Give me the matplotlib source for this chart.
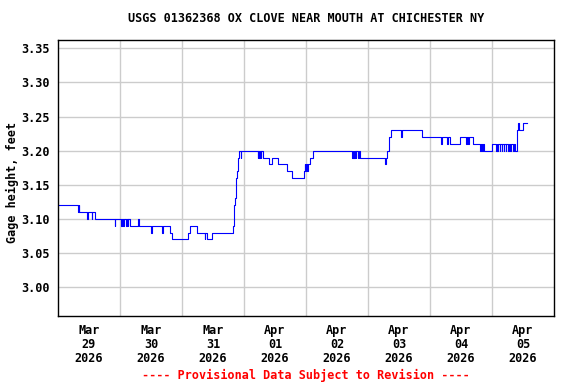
import pandas as pd
import matplotlib
matplotlib.use("Agg")
import matplotlib.pyplot as plt
import matplotlib.dates as mdates

# Gage height readings (step changes)
times = [
    "03-29 00:00", "03-29 07:45", "03-29 08:00", "03-29 08:15", "03-29 11:15",
    "03-29 11:30", "03-29 13:00", "03-29 13:15", "03-29 14:15", "03-29 22:00",
    "03-29 22:15", "03-30 00:30", "03-30 00:45", "03-30 01:15", "03-30 01:30",
    "03-30 02:30", "03-30 02:45", "03-30 03:00", "03-30 03:15", "03-30 03:45",
    "03-30 07:00", "03-30 07:30", "03-30 12:00", "03-30 12:30", "03-30 16:15",
    "03-30 16:45", "03-30 19:15", "03-30 20:15", "03-31 02:15", "03-31 03:15",
    "03-31 05:45", "03-31 08:45", "03-31 09:00", "03-31 09:45", "03-31 11:45",
    "03-31 19:45", "03-31 20:00", "03-31 20:15", "03-31 20:30", "03-31 20:45",
    "03-31 21:00", "03-31 21:15", "03-31 21:30", "03-31 21:45", "03-31 22:00",
    "03-31 22:45", "03-31 23:00", "04-01 05:15", "04-01 05:30", "04-01 05:45",
    "04-01 06:00", "04-01 06:30", "04-01 06:45", "04-01 07:30", "04-01 09:45",
    "04-01 10:45", "04-01 13:15", "04-01 16:30", "04-01 18:30", "04-01 23:15",
    "04-01 23:30", "04-01 23:45", "04-02 00:00", "04-02 00:15", "04-02 00:45",
    "04-02 01:30", "04-02 02:45", "04-02 17:45", "04-02 18:00", "04-02 18:15",
    "04-02 18:30", "04-02 18:45", "04-02 19:00", "04-02 19:15", "04-02 19:30",
    "04-02 20:15", "04-02 20:30", "04-02 21:00", "04-03 06:30", "04-03 07:00",
    "04-03 07:30", "04-03 08:00", "04-03 08:15", "04-03 08:45", "04-03 12:45",
    "04-03 13:00", "04-03 21:00", "04-04 04:15", "04-04 04:30", "04-04 06:45",
    "04-04 07:00", "04-04 07:45", "04-04 11:45", "04-04 14:00", "04-04 14:15",
    "04-04 14:45", "04-04 15:15", "04-04 16:45", "04-04 19:30", "04-04 19:45",
    "04-04 20:00", "04-04 20:30", "04-04 20:45", "04-05 00:00", "04-05 01:30",
    "04-05 01:45", "04-05 02:00", "04-05 02:30", "04-05 03:00", "04-05 03:15",
    "04-05 03:45", "04-05 04:00", "04-05 04:30", "04-05 04:45", "04-05 05:15",
    "04-05 05:30", "04-05 06:00", "04-05 06:30", "04-05 07:00", "04-05 07:15",
    "04-05 08:00", "04-05 08:30", "04-05 09:00", "04-05 09:30", "04-05 09:45",
    "04-05 10:15", "04-05 10:30", "04-05 12:00", "04-05 13:30",
]
heights = [
    3.12, 3.11, 3.12, 3.11, 3.10,
    3.11, 3.10, 3.11, 3.10, 3.09,
    3.10, 3.09, 3.10, 3.09, 3.10,
    3.09, 3.10, 3.09, 3.10, 3.09,
    3.10, 3.09, 3.08, 3.09, 3.08,
    3.09, 3.08, 3.07, 3.08, 3.09,
    3.08, 3.07, 3.08, 3.07, 3.08,
    3.09, 3.10, 3.12, 3.13, 3.14,
    3.16, 3.17, 3.18, 3.19, 3.20,
    3.19, 3.20, 3.19, 3.20, 3.19,
    3.20, 3.19, 3.20, 3.19, 3.18,
    3.19, 3.18, 3.17, 3.16, 3.17,
    3.18, 3.17, 3.18, 3.17, 3.18,
    3.19, 3.20, 3.19, 3.20, 3.19,
    3.20, 3.19, 3.20, 3.19, 3.20,
    3.19, 3.20, 3.19, 3.18, 3.19,
    3.20, 3.21, 3.22, 3.23, 3.22,
    3.23, 3.22, 3.21, 3.22, 3.21,
    3.22, 3.21, 3.22, 3.21, 3.22,
    3.21, 3.22, 3.21, 3.20, 3.21,
    3.20, 3.21, 3.20, 3.21, 3.20,
    3.21, 3.20, 3.21, 3.20, 3.21,
    3.20, 3.21, 3.20, 3.21, 3.20,
    3.21, 3.20, 3.21, 3.20, 3.21,
    3.20, 3.21, 3.20, 3.22, 3.23,
    3.24, 3.23, 3.24, 3.24,
]
t = pd.to_datetime(["2026-" + s for s in times], format="%Y-%m-%d %H:%M")

day_labels = ["Mar\n29\n2026", "Mar\n30\n2026", "Mar\n31\n2026", "Apr\n01\n2026",
              "Apr\n02\n2026", "Apr\n03\n2026", "Apr\n04\n2026", "Apr\n05\n2026"]
yticks = [3.00, 3.05, 3.10, 3.15, 3.20, 3.25, 3.30, 3.35]

plt.rcParams["font.family"] = "DejaVu Sans Mono"
plt.rcParams["font.weight"] = "bold"
plt.rcParams["font.size"] = 8.5

fig = plt.figure(figsize=(5.76, 3.84), dpi=100)
ax = fig.add_axes([58/576, 1-316/384, (554-58)/576, (316-40)/384])

ax.plot(t, heights, drawstyle="steps-post", color="#0000ff", lw=0.8)

start = pd.Timestamp("2026-03-29")
ax.set_xlim(start, start + pd.Timedelta(days=8))
ax.set_ylim(2.958, 3.362)

noons = [start + pd.Timedelta(days=i, hours=12) for i in range(8)]
mids = [start + pd.Timedelta(days=i) for i in range(1, 8)]
ax.set_xticks(noons)
ax.set_xticklabels(day_labels, linespacing=1.1)
ax.set_xticks(mids, minor=True)
ax.set_yticks(yticks)
ax.set_yticklabels([f"{v:.2f}" for v in yticks])
ax.tick_params(axis="both", which="both", length=0)
ax.tick_params(axis="x", pad=6)
ax.tick_params(axis="y", pad=6)
ax.grid(True, axis="x", which="minor", color="#cccccc", lw=1)
ax.grid(True, axis="y", which="major", color="#cccccc", lw=1)
ax.set_axisbelow(True)
for sp in ax.spines.values():
    sp.set_linewidth(1)

fig.text(306/576, 1-19/384, "USGS 01362368 OX CLOVE NEAR MOUTH AT CHICHESTER NY",
         ha="center", va="center")
fig.text(12/576, 1-182/384, "Gage height, feet", rotation=90, ha="center", va="center")
fig.text(306/576, 1-375/384, "---- Provisional Data Subject to Revision ----",
         ha="center", va="center", color="red")

fig.savefig("out.png", dpi=100)
